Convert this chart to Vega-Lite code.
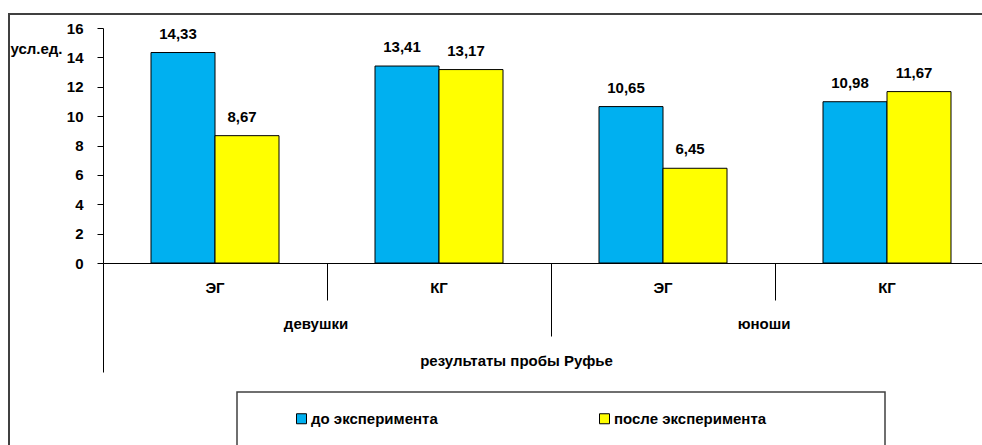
{
  "$schema": "https://vega.github.io/schema/vega-lite/v6.json",
  "width": 990,
  "height": 446,
  "autosize": {"type": "none"},
  "padding": {"left": 9, "top": 14, "right": -17, "bottom": -15},
  "background": "white",
  "data": {
    "values": [
      {"key": "девушки|ЭГ", "series": "до эксперимента", "value": 14.33},
      {"key": "девушки|ЭГ", "series": "после эксперимента", "value": 8.67},
      {"key": "девушки|КГ", "series": "до эксперимента", "value": 13.41},
      {"key": "девушки|КГ", "series": "после эксперимента", "value": 13.17},
      {"key": "юноши|ЭГ", "series": "до эксперимента", "value": 10.65},
      {"key": "юноши|ЭГ", "series": "после эксперимента", "value": 6.45},
      {"key": "юноши|КГ", "series": "до эксперимента", "value": 10.98},
      {"key": "юноши|КГ", "series": "после эксперимента", "value": 11.67}
    ]
  },
  "layer": [
    {
      "transform": [{"filter": "datum.series === 'до эксперимента'"}],
      "mark": {"type": "bar", "stroke": "black", "strokeWidth": 1},
      "encoding": {
        "x": {
          "field": "key", "type": "nominal",
          "scale": {"domain": ["девушки|ЭГ", "девушки|КГ", "юноши|ЭГ", "юноши|КГ"], "range": [94, 990], "paddingInner": 0, "paddingOuter": 0},
          "axis": {
            "orient": "bottom", "offset": -197, "bandPosition": 0,
            "domain": true, "domainColor": "black", "domainWidth": 1,
            "ticks": true, "tickColor": "black", "tickWidth": 1,
            "tickSize": {"condition": [{"test": "datum.value === 'девушки|ЭГ'", "value": 109}, {"test": "datum.value === 'юноши|ЭГ'", "value": 73}], "value": 37},
            "labels": false,
            "title": "результаты пробы Руфье",
            "titleX": 507, "titleY": 97, "titleAlign": "center", "titleBaseline": "middle", "titleAngle": 0,
            "titleFont": "Liberation Sans", "titleFontSize": 15, "titleFontWeight": "bold", "titleColor": "black"
          }
        },
        "xOffset": {"field": "series", "type": "nominal", "scale": {"domain": ["до эксперимента", "после эксперимента"], "paddingInner": 0, "paddingOuter": 0.75}},
        "y": {
          "field": "value", "type": "quantitative",
          "scale": {"domain": [0, 16], "range": [249, 14], "nice": false, "zero": false},
          "axis": {
            "orient": "left", "offset": -94, "values": [0, 2, 4, 6, 8, 10, 12, 14, 16],
            "domain": true, "domainColor": "black", "domainWidth": 1,
            "ticks": true, "tickSize": 6, "tickColor": "black", "grid": false,
            "labelPadding": 14, "labelFont": "Liberation Sans", "labelFontSize": 15, "labelFontWeight": "bold", "labelColor": "black",
            "title": "усл.ед.", "titleAngle": 0, "titleX": -93, "titleY": 34, "titleAlign": "left", "titleBaseline": "middle",
            "titleFont": "Liberation Sans", "titleFontSize": 15, "titleFontWeight": "bold", "titleColor": "black"
          }
        },
        "color": {
          "field": "series", "type": "nominal",
          "scale": {"domain": ["до эксперимента", "после эксперимента"], "range": ["#00B0F0", "#FFFF00"]},
          "legend": {
            "orient": "none", "legendX": 228, "legendY": 378, "direction": "horizontal",
            "title": "\u2003", "titleOrient": "right", "titlePadding": 100, "titleFontSize": 15,
            "padding": 19, "strokeColor": "#404040",
            "symbolType": "square", "symbolSize": 100, "symbolStrokeColor": "black", "symbolStrokeWidth": 1, "symbolOpacity": 1,
            "symbolOffset": 38,
            "labelFont": "Liberation Sans", "labelFontSize": 15, "labelFontWeight": "bold", "labelColor": "black",
            "labelOffset": 2, "columnPadding": 121, "labelLimit": 500
          }
        }
      }
    },
    {
      "transform": [{"filter": "datum.series === 'после эксперимента'"}],
      "mark": {"type": "bar", "stroke": "black", "strokeWidth": 1},
      "encoding": {
        "x": {
          "field": "key", "type": "nominal",
          "scale": {"domain": ["девушки|ЭГ", "девушки|КГ", "юноши|ЭГ", "юноши|КГ"], "range": [94, 990], "paddingInner": 0, "paddingOuter": 0},
          "axis": {
            "orient": "bottom", "offset": -197,
            "domain": false, "ticks": false,
            "labelExpr": "split(datum.label, '|')[1]",
            "labelPadding": 24, "labelBaseline": "middle", "labelAngle": 0,
            "labelFont": "Liberation Sans", "labelFontSize": 15, "labelFontWeight": "bold", "labelColor": "black",
            "title": null
          }
        },
        "xOffset": {"field": "series", "type": "nominal", "scale": {"domain": ["до эксперимента", "после эксперимента"], "paddingInner": 0, "paddingOuter": 0.75}},
        "y": {"field": "value", "type": "quantitative", "scale": {"domain": [0, 16], "range": [249, 14], "nice": false, "zero": false}, "axis": null},
        "color": {"field": "series", "type": "nominal", "scale": {"domain": ["до эксперимента", "после эксперимента"], "range": ["#00B0F0", "#FFFF00"]}}
      }
    },
    {
      "mark": {"type": "text", "font": "Liberation Sans", "fontSize": 15, "fontWeight": "bold", "color": "black", "baseline": "middle", "dy": -19, "dx": -5},
      "encoding": {
        "x": {
          "field": "key", "type": "nominal",
          "scale": {"domain": ["девушки|ЭГ", "девушки|КГ", "юноши|ЭГ", "юноши|КГ"], "range": [94, 990], "paddingInner": 0, "paddingOuter": 0},
          "axis": {
            "orient": "bottom", "offset": -197,
            "domain": false, "ticks": false,
            "labelExpr": "indexof(datum.label, 'ЭГ') >= 0 ? split(datum.label, '|')[0] : ''",
            "labelOffset": 101, "labelPadding": 60, "labelBaseline": "middle", "labelAngle": 0,
            "labelFont": "Liberation Sans", "labelFontSize": 15, "labelFontWeight": "bold", "labelColor": "black",
            "title": null
          }
        },
        "xOffset": {"field": "series", "type": "nominal", "scale": {"domain": ["до эксперимента", "после эксперимента"], "paddingInner": 0, "paddingOuter": 0.75}},
        "y": {"field": "value", "type": "quantitative", "scale": {"domain": [0, 16], "range": [249, 14], "nice": false, "zero": false}, "axis": null},
        "text": {"field": "value", "type": "quantitative", "format": ".2f"}
      }
    }
  ],
  "resolve": {"axis": {"x": "independent", "y": "independent"}},
  "config": {
    "view": {"stroke": "#404040", "strokeWidth": 2},
    "font": "Liberation Sans",
    "legend": {"strokeWidth": 1.5},
    "locale": {"number": {"decimal": ",", "thousands": " ", "grouping": [3], "currency": ["", ""]}}
  }
}
